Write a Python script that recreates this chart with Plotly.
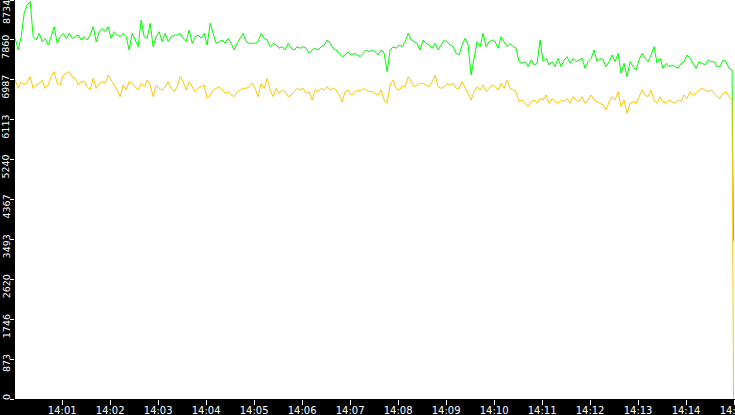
import pandas as pd
import plotly.graph_objects as go

# ---- data ----
green = [
    7894, 7639, 7931, 8442, 8624, 8698, 7931, 7858, 8004, 7821,
    7894, 7748, 7931, 8150, 7785, 7931, 8004, 7894, 8004, 7894,
    7931, 7967, 7858, 7931, 7858, 7967, 8150, 7821, 8040, 8113,
    8040, 8150, 7894, 8040, 7967, 7931, 8004, 7931, 7639, 8004,
    7858, 7712, 8296, 7931, 7894, 8223, 7712, 7931, 8040, 7821,
    8004, 7821, 7931, 7967, 7967, 8004, 7894, 7821, 8077, 7785,
    7931, 7967, 7894, 8004, 7748, 8223, 8004, 7785, 7821, 7858,
    7785, 7894, 7785, 7639, 7785, 7894, 8004, 7821, 7785, 7785,
    7785, 7821, 8004, 7894, 7858, 7712, 7785, 7748, 7676, 7712,
    7639, 7785, 7676, 7639, 7712, 7676, 7712, 7676, 7566, 7639,
    7676, 7639, 7712, 7748, 7858, 7785, 7676, 7639, 7566, 7493,
    7530, 7603, 7530, 7566, 7530, 7493, 7566, 7639, 7603, 7639,
    7603, 7530, 7639, 7566, 7164, 7639, 7712, 7676, 7748, 7712,
    7821, 8004, 7858, 7821, 7785, 7639, 7858, 7785, 7748, 7676,
    7785, 7639, 7748, 7858, 7821, 7748, 7712, 7566, 7530, 7748,
    7894, 7748, 7091, 7493, 7821, 7712, 8004, 7712, 7821, 7858,
    7821, 7676, 7931, 7821, 7712, 7785, 7712, 7676, 7384, 7347,
    7384, 7274, 7420, 7310, 7347, 7858, 7384, 7457, 7310, 7384,
    7274, 7457, 7274, 7420, 7493, 7347, 7457, 7384, 7420, 7457,
    7237, 7384, 7457, 7639, 7384, 7457, 7420, 7274, 7384, 7530,
    7384, 7566, 7128, 7347, 7055, 7384, 7274, 7201, 7420, 7566,
    7457, 7384, 7530, 7712, 7347, 7457, 7237, 7347, 7274, 7310,
    7274, 7237, 7347, 7384, 7530, 7457, 7347, 7237, 7384, 7347,
    7310, 7420, 7384, 7384, 7274, 7274, 7420, 7384, 7237, 7201,
    3460,
]
yellow = [
    6982, 6800, 6946, 6873, 6946, 7055, 6800, 6873, 6909, 6982,
    6800, 6873, 7055, 7164, 6909, 6873, 7092, 7128, 7164, 7055,
    7019, 6873, 6946, 6946, 6836, 6763, 7019, 6800, 6909, 6946,
    6909, 7092, 6982, 6873, 6763, 6617, 6873, 6763, 6946, 6909,
    6836, 6763, 6909, 6836, 6982, 6873, 6617, 6873, 6800, 6763,
    6836, 6946, 6800, 6727, 6836, 7055, 6946, 6763, 6946, 6836,
    6727, 6800, 6836, 6873, 6580, 6654, 6763, 6800, 6836, 6763,
    6690, 6727, 6654, 6617, 6727, 6763, 6800, 6800, 6836, 6909,
    6800, 6617, 6909, 6800, 7019, 6763, 6617, 6800, 6690, 6763,
    6727, 6617, 6654, 6727, 6800, 6763, 6800, 6690, 6727, 6544,
    6763, 6727, 6800, 6763, 6836, 6763, 6800, 6763, 6654, 6507,
    6727, 6763, 6654, 6690, 6763, 6727, 6800, 6763, 6727, 6727,
    6690, 6654, 6763, 6544, 6471, 6873, 6982, 6800, 6763, 6836,
    6836, 7055, 6946, 6836, 6873, 6909, 6909, 6873, 6836, 6946,
    7092, 6836, 6800, 6836, 6909, 6873, 6909, 6800, 6800, 6946,
    6800, 6690, 6544, 6727, 6836, 6763, 6873, 6727, 6800, 6873,
    6836, 6763, 6909, 6800, 6982, 6800, 6763, 6727, 6507, 6544,
    6471, 6398, 6507, 6544, 6471, 6580, 6544, 6654, 6471, 6580,
    6507, 6471, 6544, 6507, 6580, 6471, 6617, 6544, 6507, 6617,
    6471, 6544, 6654, 6544, 6507, 6471, 6434, 6325, 6507, 6617,
    6544, 6727, 6398, 6544, 6252, 6471, 6507, 6471, 6617, 6763,
    6654, 6617, 6763, 6544, 6471, 6617, 6507, 6471, 6544, 6507,
    6471, 6544, 6507, 6654, 6580, 6727, 6654, 6690, 6763, 6800,
    6763, 6727, 6763, 6690, 6617, 6580, 6690, 6727, 6617, 6544,
    0,
]
start_time = "2024-01-01 14:00:01.250"
sample_ms = 3750
end_time = "2024-01-01 14:14:59.400"

y_tick_vals = [0, 873.4, 1746.8, 2620.2, 3493.6, 4367, 5240.4, 6113.8, 6987.2, 7860.6, 8734]
y_tick_text = ["0", "873", "1746", "2620", "3493", "4367", "5240", "6113", "6987", "7860", "8734"]
x_range = ["2024-01-01 14:00:01", "2024-01-01 14:15:01.2"]
y_range = [0, 8734]

times = list(pd.date_range(start_time, periods=len(green) - 1, freq=f"{sample_ms}ms"))
times.append(pd.Timestamp(end_time))

fig = go.Figure()
fig.add_trace(go.Scatter(x=times, y=green, mode="lines",
                         line=dict(color="#00ff00", width=1)))
fig.add_trace(go.Scatter(x=times, y=yellow, mode="lines",
                         line=dict(color="#ffc800", width=1)))

fig.update_layout(
    width=735, height=415,
    margin=dict(l=15, r=0, t=0, b=16),
    paper_bgcolor="black", plot_bgcolor="white",
    showlegend=False,
    font=dict(family="DejaVu Sans", color="white", size=10),
)
fig.update_xaxes(
    type="date", range=x_range, tickformat="%H:%M", dtick=60000,
    tick0="2024-01-01 14:00:00", automargin=False, ticklabeloverflow="allow",
    showgrid=False, zeroline=False, showline=False,
    ticks="outside", ticklen=5, tickcolor="white", tickwidth=1,
    tickfont=dict(size=10, color="white"), ticklabelstandoff=-3,
)
fig.update_yaxes(
    range=y_range, tickvals=y_tick_vals, ticktext=y_tick_text,
    showticklabels=False, automargin=False,
    showgrid=False, zeroline=False, showline=False,
    ticks="outside", ticklen=4, tickcolor="white", tickwidth=1,
)

# rotated y labels, hanging just below their tick (top one kept inside the page)
for v, t in zip(y_tick_vals, y_tick_text):
    fig.add_annotation(
        x=0, xref="paper", y=v, yref="y", text=t, textangle=-90,
        showarrow=False, xanchor="center", yanchor="top",
        xshift=-9, yshift=(1 if v == y_range[1] else 6),
        font=dict(family="DejaVu Sans", size=9.5, color="white"),
        borderpad=0,
    )

fig.write_html(
    "out.html",
    config={"displayModeBar": False},
    post_script="document.body.style.margin='0';document.body.style.background='black';",
)
